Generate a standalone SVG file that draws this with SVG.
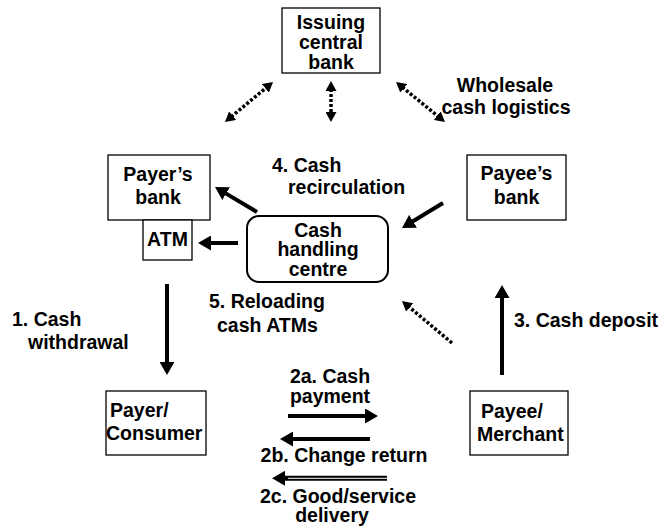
<svg xmlns="http://www.w3.org/2000/svg" width="664" height="532" viewBox="0 0 664 532">
<style>
text{font-family:"Liberation Sans",Arial,sans-serif;font-weight:bold;font-size:19.5px;fill:#000}
.c{text-anchor:middle}
.box{fill:#fff;stroke:#000;stroke-width:1.3}
.rbox{fill:#fff;stroke:#000;stroke-width:2}
.solid{stroke:#000;stroke-width:4;fill:none}
.dot{stroke:#000;stroke-width:3.5;stroke-dasharray:3 2;fill:none}
</style>
<defs>
<marker id="ah" markerUnits="userSpaceOnUse" markerWidth="13" markerHeight="15" refX="3" refY="7.5" orient="auto"><path d="M0,0 L13,7.5 L0,15 z" fill="#000"/></marker>
<marker id="dh" markerUnits="userSpaceOnUse" markerWidth="10" markerHeight="11" refX="2" refY="5.5" orient="auto-start-reverse"><path d="M0,0 L10,5.5 L0,11 z" fill="#000"/></marker>
</defs>
<g id="connectors">
<line class="dot" x1="231.1" y1="116.9" x2="266.9" y2="87.1" marker-start="url(#dh)" marker-end="url(#dh)"/>
<line class="dot" x1="331" y1="89" x2="331" y2="114" marker-start="url(#dh)" marker-end="url(#dh)"/>
<line class="dot" x1="402.2" y1="87.1" x2="438.8" y2="116.9" marker-start="url(#dh)" marker-end="url(#dh)"/>
<line class="dot" x1="452" y1="343" x2="408.1" y2="306.1" marker-end="url(#dh)"/>
<line class="solid" x1="257" y1="212" x2="223.6" y2="192.1" marker-end="url(#ah)"/>
<line class="solid" x1="238" y1="243" x2="208" y2="243" marker-end="url(#ah)"/>
<line class="solid" x1="443" y1="203" x2="410.5" y2="222.8" marker-end="url(#ah)"/>
<line class="solid" x1="167" y1="284" x2="167" y2="365" marker-end="url(#ah)"/>
<line class="solid" x1="502" y1="375" x2="502" y2="295" marker-end="url(#ah)"/>
<line class="solid" x1="288" y1="416" x2="368" y2="416" marker-end="url(#ah)"/>
<line class="solid" x1="370" y1="439" x2="290" y2="439" marker-end="url(#ah)"/>
<line stroke="#000" stroke-width="5" x1="387" y1="478.3" x2="282" y2="478.3" marker-end="url(#ah)"/>
<line stroke="#fff" stroke-width="1" x1="388" y1="478.3" x2="288" y2="478.3"/>
</g>
<g id="issuing-central-bank">
<rect class="box" x="282" y="8" width="98" height="65"/>
<text class="c" x="331" y="28.5">Issuing</text>
<text class="c" x="331" y="49">central</text>
<text class="c" x="331" y="68.5">bank</text>
</g>
<g id="wholesale-label">
<text class="c" x="505" y="92">Wholesale</text>
<text class="c" x="506" y="113.5">cash logistics</text>
</g>
<g id="payers-bank">
<rect class="box" x="108" y="155" width="102" height="65"/>
<text class="c" x="158" y="180.5">Payer’s</text>
<text class="c" x="158" y="203.5">bank</text>
</g>
<g id="atm">
<rect class="box" x="143" y="220" width="49" height="40"/>
<text class="c" x="167.5" y="246">ATM</text>
</g>
<g id="payees-bank">
<rect class="box" x="467" y="155" width="99" height="65"/>
<text class="c" x="516.5" y="180">Payee’s</text>
<text class="c" x="516.5" y="203.5">bank</text>
</g>
<g id="cash-handling-centre">
<rect class="rbox" x="247" y="216" width="141" height="66" rx="12"/>
<text class="c" x="318" y="236.5">Cash</text>
<text class="c" x="318" y="256">handling</text>
<text class="c" x="318" y="275.5">centre</text>
</g>
<g id="payer-consumer">
<rect class="box" x="106" y="391" width="100" height="64"/>
<text x="110" y="417">Payer/</text>
<text x="106" y="440">Consumer</text>
</g>
<g id="payee-merchant">
<rect class="box" x="470" y="391" width="98" height="64"/>
<text x="481" y="418">Payee/</text>
<text x="477" y="441">Merchant</text>
</g>
<g id="labels">
<text x="272" y="172">4. Cash</text>
<text x="288" y="193.5">recirculation</text>
<text x="209" y="308">5. Reloading</text>
<text x="217" y="331.5">cash ATMs</text>
<text x="12" y="325.5">1. Cash</text>
<text x="28" y="349">withdrawal</text>
<text x="514" y="327">3. Cash deposit</text>
<text class="c" x="330" y="383">2a. Cash</text>
<text class="c" x="330" y="403">payment</text>
<text class="c" x="344" y="462">2b. Change return</text>
<text class="c" x="338" y="503">2c. Good/service</text>
<text class="c" x="332" y="522">delivery</text>
</g>
</svg>
